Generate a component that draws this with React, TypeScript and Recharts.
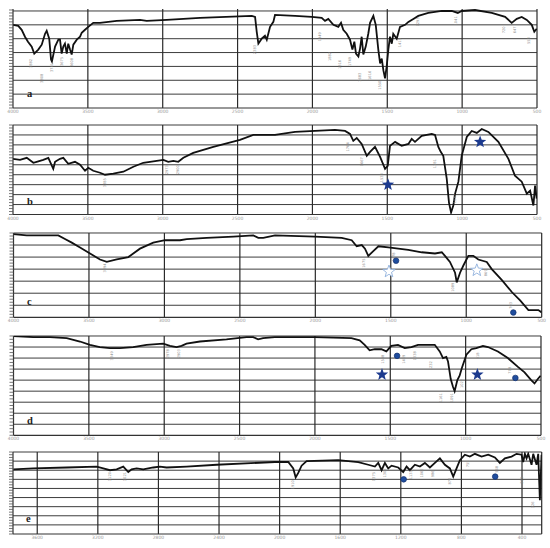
import React from "react";
import { ComposedChart, Line, XAxis, YAxis, ReferenceLine, Scatter } from "recharts";

const FONT = "'DejaVu Sans', sans-serif";

// x tick labels
const wideTicks = [4000, 3500, 3000, 2500, 2000, 1500, 1000, 500];
const wideGridX = [3500, 3000, 2500, 2000, 1500, 1000, 500];
const eTicks = [3600, 3200, 2800, 2400, 2000, 1600, 1200, 800, 400];
const eGridX = [3600, 3200, 2800, 2400, 2000, 1600, 1200, 800, 400, 270];

// spectrum a
const aWave = [4000, 3965, 3942, 3920, 3900, 3875, 3858, 3831, 3808, 3786, 3775, 3758, 3746, 3740, 3719, 3697, 3686, 3675, 3664, 3653, 3641, 3631, 3619, 3608, 3597, 3574, 3552, 3541, 3519, 3497, 3464, 3419, 3307, 3152, 3107, 2973, 2751, 2405, 2383, 2372, 2361, 2339, 2317, 2305, 2283, 2261, 2250, 2116, 2005, 1938, 1916, 1894, 1860, 1827, 1809, 1794, 1771, 1749, 1733, 1720, 1709, 1693, 1682, 1671, 1660, 1644, 1627, 1615, 1593, 1577, 1560, 1548, 1537, 1526, 1515, 1504, 1493, 1482, 1470, 1460, 1437, 1415, 1381, 1359, 1326, 1293, 1226, 1136, 1069, 1029, 1003, 914, 802, 713, 669, 635, 602, 568, 535, 518, 502];
const aTrans = [84, 83, 79, 72, 67, 62, 55, 59, 64, 75, 78, 70, 49, 47, 62, 69, 69, 55, 62, 65, 55, 65, 59, 54, 64, 69, 72, 76, 79, 82, 86, 86, 88, 89, 88, 89, 91, 93, 92, 77, 65, 70, 73, 69, 82, 87, 94, 93, 92, 91, 88, 90, 84, 82, 86, 79, 75, 69, 59, 67, 55, 52, 60, 72, 54, 62, 75, 86, 93, 84, 59, 45, 50, 38, 30, 42, 59, 72, 65, 75, 70, 82, 84, 87, 90, 93, 96, 98, 98, 96, 98, 99, 96, 92, 86, 90, 92, 89, 84, 77, 80];
const aPeakWave = [3882, 3808, 3741, 3675, 3608, 2383, 1949, 1882, 1816, 1749, 1683, 1616, 1550, 1415, 1295, 1041, 720, 647, 553];
const aPeakTrans = [45, 30, 41, 47, 46, 59, 72, 52, 44, 47, 31, 33, 23, 66, 87, 88, 79, 79, 68];

// spectrum b
const bWave = [4000, 3953, 3908, 3864, 3842, 3798, 3764, 3731, 3719, 3686, 3664, 3631, 3586, 3552, 3519, 3497, 3464, 3419, 3385, 3330, 3263, 3196, 3130, 3040, 2996, 2963, 2929, 2896, 2862, 2796, 2662, 2484, 2395, 2250, 2116, 1983, 1849, 1782, 1749, 1727, 1704, 1671, 1637, 1615, 1582, 1548, 1515, 1497, 1482, 1448, 1404, 1359, 1337, 1315, 1270, 1203, 1181, 1159, 1143, 1126, 1103, 1088, 1074, 1059, 1047, 1025, 1003, 969, 936, 902, 869, 825, 758, 691, 647, 602, 568, 546, 524, 513, 502];
const bTrans = [56, 55, 57, 52, 53, 55, 57, 46, 53, 56, 57, 51, 53, 50, 44, 47, 44, 42, 40, 41, 43, 48, 52, 54, 55, 53, 54, 53, 57, 62, 68, 75, 80, 80, 83, 84, 85, 84, 81, 74, 77, 71, 59, 63, 68, 58, 46, 49, 69, 73, 69, 71, 76, 73, 79, 81, 80, 68, 63, 59, 36, 12, 2, 9, 21, 33, 59, 78, 84, 82, 86, 83, 73, 56, 39, 33, 21, 24, 9, 29, 16];
const bPeakWave = [3385, 2973, 2900, 1764, 1667, 1533, 1181, 1047];
const bPeakTrans = [32, 45, 45, 68, 53, 37, 51, 16];
const bStarWave = [1495, 880];
const bStarTrans = [30, 73];

// spectrum c
const cWave = [4000, 3913, 3824, 3758, 3703, 3659, 3614, 3559, 3493, 3427, 3382, 3316, 3239, 3162, 3074, 2996, 2897, 2852, 2720, 2543, 2411, 2378, 2345, 2267, 2002, 1825, 1759, 1726, 1692, 1671, 1649, 1616, 1582, 1516, 1450, 1384, 1295, 1207, 1162, 1141, 1108, 1074, 1063, 1041, 1019, 986, 953, 920, 864, 831, 765, 698, 643, 588, 522, 500];
const cTrans = [69, 68, 68, 68, 68, 65, 62, 58, 53, 48, 46, 48, 50, 57, 62, 64, 64, 65, 66, 67, 68, 66, 66, 68, 67, 66, 64, 59, 60, 57, 51, 55, 59, 58, 57, 56, 54, 53, 54, 51, 46, 37, 29, 37, 43, 51, 51, 48, 46, 40, 31, 21, 14, 6, 6, 4];
const cPeakWave = [3394, 1675, 1478, 1089, 869, 703];
const cPeakTrans = [41, 45, 50, 25, 37, 10];
const cOpenStarWave = [1512, 930];
const cOpenStarTrans = [38, 39];
const cDotWave = [1465, 688];
const cDotTrans = [47, 4];

// spectrum d
const dWave = [4000, 3869, 3758, 3647, 3559, 3493, 3427, 3360, 3294, 3206, 3117, 3007, 2962, 2918, 2885, 2852, 2763, 2587, 2454, 2410, 2377, 2344, 2266, 2001, 1758, 1703, 1670, 1637, 1603, 1559, 1526, 1493, 1449, 1404, 1360, 1316, 1250, 1205, 1172, 1150, 1128, 1117, 1099, 1084, 1073, 1055, 1040, 1025, 995, 962, 929, 885, 852, 786, 720, 653, 609, 565, 543, 521, 503];
const dTrans = [90, 89, 89, 88, 85, 82, 80, 79, 79, 80, 82, 83, 81, 80, 81, 83, 85, 87, 89, 89, 87, 88, 89, 89, 88, 86, 82, 77, 78, 78, 76, 81, 82, 79, 80, 82, 82, 82, 76, 70, 71, 67, 51, 44, 40, 50, 54, 61, 73, 78, 79, 81, 80, 76, 70, 62, 57, 50, 47, 51, 54];
const dPeakWave = [3349, 2978, 2903, 1548, 1409, 1338, 1232, 1161, 1091, 1022, 918, 708];
const dPeakTrans = [72, 74, 74, 69, 69, 72, 63, 34, 34, 47, 72, 59];
const dStarWave = [1555, 922];
const dStarTrans = [55, 55];
const dDotWave = [1455, 670];
const dDotTrans = [72, 52];

// spectrum e
const eWave = [3758, 3626, 3406, 3208, 3164, 3120, 3076, 3032, 2999, 2977, 2944, 2900, 2834, 2790, 2746, 2614, 2416, 2031, 1943, 1910, 1894, 1877, 1855, 1822, 1613, 1481, 1415, 1371, 1349, 1327, 1305, 1283, 1261, 1217, 1184, 1162, 1140, 1107, 1074, 1041, 1008, 975, 942, 909, 876, 854, 832, 810, 777, 744, 711, 667, 623, 579, 546, 513, 469, 436, 403, 392, 381, 370, 359, 337, 326, 304, 293, 282, 271];
const eTrans = [71, 72, 73, 74, 72, 70, 71, 74, 68, 71, 72, 71, 73, 74, 73, 74, 76, 79, 79, 72, 62, 67, 75, 80, 81, 79, 76, 74, 78, 70, 78, 72, 75, 73, 68, 74, 70, 76, 74, 78, 73, 78, 83, 76, 72, 63, 72, 81, 87, 85, 88, 85, 87, 84, 78, 83, 85, 88, 87, 79, 88, 83, 88, 76, 88, 76, 88, 37, 87];
const ePeakWave = [3120, 3021, 1910, 1375, 1305, 1133, 1062, 986, 876, 755, 568, 399, 326];
const ePeakTrans = [63, 63, 54, 63, 67, 65, 67, 66, 58, 77, 71, 59, 32];
const eDotWave = [1181, 577];
const eDotTrans = [60, 63];

const zip = (w: number[], t: number[]) => w.map((v, i) => ({ w: v, t: t[i] }));
const steps = (max: number, step: number) =>
  Array.from({ length: Math.floor(max / step) + 1 }, (_, i) => +(i * step).toFixed(2));

function starPoints(cx: number, cy: number, r: number) {
  const pts: string[] = [];
  for (let i = 0; i < 10; i++) {
    const rad = i % 2 === 0 ? r : r * 0.42;
    const a = -Math.PI / 2 + (i * Math.PI) / 5;
    pts.push(`${(cx + rad * Math.cos(a)).toFixed(2)},${(cy + rad * Math.sin(a)).toFixed(2)}`);
  }
  return pts.join(" ");
}

const FilledStar = (p: any) => <polygon points={starPoints(p.cx, p.cy, 6.5)} fill="#1c3a8e" />;
const OpenStar = (p: any) => (
  <polygon points={starPoints(p.cx, p.cy, 6.5)} fill="#ffffff" stroke="#8fb0dc" strokeWidth={0.9} />
);
const BlueDot = (p: any) => <circle cx={p.cx} cy={p.cy} r={2.8} fill="#1f4d9e" stroke="#12306e" strokeWidth={0.7} />;
const PeakLabel = (p: any) => (
  <text
    x={p.cx}
    y={p.cy}
    transform={`rotate(-90 ${p.cx} ${p.cy})`}
    textAnchor="middle"
    dominantBaseline="central"
    fontSize={3.6}
    fontFamily={FONT}
    fill="#8a8a8a"
  >
    {p.payload.w}
  </text>
);
const NoTick = () => <g />;

interface PanelProps {
  top: number;
  bottom: number;
  left: number;
  right: number;
  wave: number[];
  trans: number[];
  xDomain: [number, number];
  xTicks: number[];
  gridX: number[];
  yMax: number;
  gridY: number[];
  minorStep: number;
  peaks: { w: number; t: number }[];
  stars?: { w: number; t: number }[];
  openStars?: { w: number; t: number }[];
  dots?: { w: number; t: number }[];
}

const Panel = (p: PanelProps) => {
  const padTop = 6;
  const padBottom = 11;
  const height = p.bottom - p.top + padTop + padBottom + 1;
  return (
    <div style={{ position: "absolute", left: 0, top: p.top - padTop, width: 550, height }}>
      <ComposedChart
        width={550}
        height={height}
        data={zip(p.wave, p.trans)}
        margin={{ top: padTop, bottom: padBottom, left: p.left - 1, right: 550 - p.right }}
      >
        <XAxis
          dataKey="w"
          type="number"
          domain={p.xDomain}
          reversed
          allowDataOverflow
          ticks={p.xTicks}
          interval={0}
          height={1}
          tickLine={false}
          tickSize={1}
          tickMargin={1}
          axisLine={{ stroke: "#333", strokeWidth: 1.2 }}
          tick={{ fontSize: 4.5, fill: "#9a9a9a", fontFamily: FONT }}
        />
        <YAxis
          type="number"
          domain={[0, p.yMax]}
          allowDataOverflow
          ticks={steps(p.yMax, p.minorStep)}
          interval={0}
          width={1}
          tick={NoTick}
          tickSize={4}
          tickLine={{ stroke: "#555", strokeWidth: 0.8 }}
          axisLine={{ stroke: "#333", strokeWidth: 1.2 }}
        />
        {p.gridY.map((y) => (
          <ReferenceLine key={`h${y}`} y={y} stroke="#3c3c3c" strokeWidth={1} />
        ))}
        {p.gridX.map((x) => (
          <ReferenceLine key={`v${x}`} x={x} stroke="#2a2a2a" strokeWidth={1.2} />
        ))}
        <Line
          dataKey="t"
          type="linear"
          stroke="#111"
          strokeWidth={1.8}
          dot={false}
          isAnimationActive={false}
        />
        <Scatter data={p.peaks} dataKey="t" shape={PeakLabel} isAnimationActive={false} />
        {p.stars && <Scatter data={p.stars} dataKey="t" shape={FilledStar} isAnimationActive={false} />}
        {p.openStars && <Scatter data={p.openStars} dataKey="t" shape={OpenStar} isAnimationActive={false} />}
        {p.dots && <Scatter data={p.dots} dataKey="t" shape={BlueDot} isAnimationActive={false} />}
      </ComposedChart>
    </div>
  );
};

const letters = [
  { text: "a", x: 27, y: 97 },
  { text: "b", x: 27, y: 204.5 },
  { text: "c", x: 27, y: 305 },
  { text: "d", x: 27, y: 424 },
  { text: "e", x: 26, y: 522 },
];

export default function App() {
  return (
    <div style={{ position: "fixed", left: 0, top: 0, width: 550, height: 548, background: "#fff", overflow: "hidden" }}>
      <Panel
        top={9} bottom={108} left={13} right={537}
        wave={aWave} trans={aTrans}
        xDomain={[500, 4000]} xTicks={wideTicks} gridX={wideGridX}
        yMax={100} gridY={[14, 28, 42, 56, 70, 84, 98]} minorStep={3}
        peaks={zip(aPeakWave, aPeakTrans)}
      />
      <Panel
        top={124.5} bottom={214} left={13} right={537}
        wave={bWave} trans={bTrans}
        xDomain={[500, 4000]} xTicks={wideTicks} gridX={wideGridX}
        yMax={90} gridY={[10, 20, 30, 40, 50, 60, 70, 80, 90]} minorStep={3}
        peaks={zip(bPeakWave, bPeakTrans)}
        stars={zip(bStarWave, bStarTrans)}
      />
      <Panel
        top={232.7} bottom={317} left={13.5} right={541.7}
        wave={cWave} trans={cTrans}
        xDomain={[500, 4000]} xTicks={wideTicks} gridX={wideGridX}
        yMax={70} gridY={[10, 20, 30, 40, 50, 60, 70]} minorStep={2.5}
        peaks={zip(cPeakWave, cPeakTrans)}
        openStars={zip(cOpenStarWave, cOpenStarTrans)}
        dots={zip(cDotWave, cDotTrans)}
      />
      <Panel
        top={335.7} bottom={435} left={13.5} right={541}
        wave={dWave} trans={dTrans}
        xDomain={[500, 4000]} xTicks={wideTicks} gridX={wideGridX}
        yMax={90} gridY={[10, 20, 30, 40, 50, 60, 70, 80, 90]} minorStep={3}
        peaks={zip(dPeakWave, dPeakTrans)}
        stars={zip(dStarWave, dStarTrans)}
        dots={zip(dDotWave, dDotTrans)}
      />
      <Panel
        top={452} bottom={534} left={13} right={541.7}
        wave={eWave} trans={eTrans}
        xDomain={[270, 3760]} xTicks={eTicks} gridX={eGridX}
        yMax={90} gridY={[10, 20, 30, 40, 50, 60, 70, 80, 90]} minorStep={3}
        peaks={zip(ePeakWave, ePeakTrans)}
        dots={zip(eDotWave, eDotTrans)}
      />
      <svg width={550} height={548} style={{ position: "absolute", left: 0, top: 0, pointerEvents: "none" }}>
        {letters.map((l) => (
          <text key={l.text} x={l.x} y={l.y} fontSize={10.5} fontWeight="bold" fontFamily="'Liberation Serif', serif" fill="#222">
            {l.text}
          </text>
        ))}
      </svg>
    </div>
  );
}
